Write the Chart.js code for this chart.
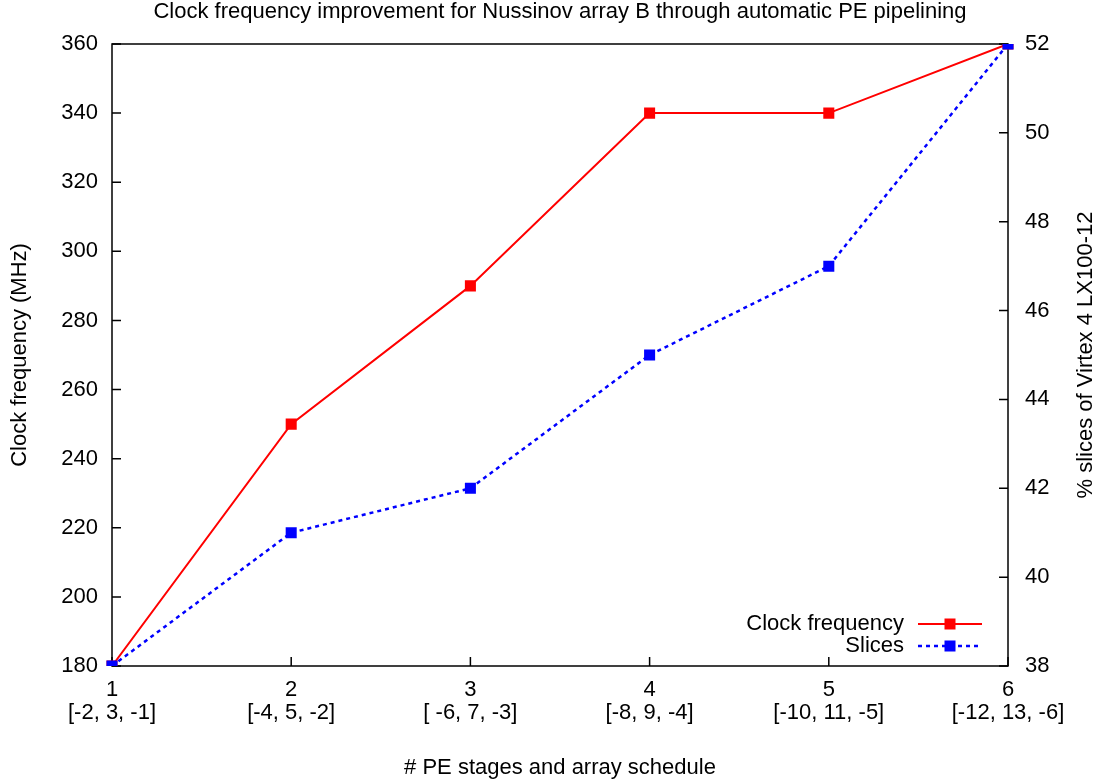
<!DOCTYPE html>
<html>
<head>
<meta charset="utf-8">
<script src="https://cdn.jsdelivr.net/npm/chart.js@4/dist/chart.umd.min.js"></script>
<style>
  html, body { margin: 0; padding: 0; background: #fff; }
  #wrap { width: 1102px; height: 782px; position: relative; }
</style>
</head>
<body>
<div id="wrap"><canvas id="c"></canvas></div>
<script>
// data
const stages = ['1', '2', '3', '4', '5', '6'];
const schedules = ['[-2, 3, -1]', '[-4, 5, -2]', '[ -6, 7, -3]', '[-8, 9, -4]', '[-10, 11, -5]', '[-12, 13, -6]'];
const clockFreq = [180, 250, 290, 340, 340, 360];
const slices = [38, 41, 42, 45, 47, 52];

const FONT = '"Liberation Sans", Arial, Helvetica, sans-serif';
const FS = 22;

// gnuplot style frame + inward ticks
const framePlugin = {
    id: 'frame',
    beforeDatasetsDraw(chart) {
        const { ctx, chartArea: a, scales } = chart;
        const len = 9;
        ctx.save();
        ctx.strokeStyle = '#000';
        ctx.lineWidth = 1.5;
        ctx.strokeRect(a.left, a.top, a.right - a.left, a.bottom - a.top);
        ctx.beginPath();
        scales.y.ticks.forEach((t, i) => {
            const py = scales.y.getPixelForTick(i);
            ctx.moveTo(a.left, py); ctx.lineTo(a.left + len, py);
        });
        scales.y2.ticks.forEach((t, i) => {
            const py = scales.y2.getPixelForTick(i);
            ctx.moveTo(a.right, py); ctx.lineTo(a.right - len, py);
        });
        scales.x.ticks.forEach((t, i) => {
            const px = scales.x.getPixelForTick(i);
            ctx.moveTo(px, a.bottom); ctx.lineTo(px, a.bottom - len);
        });
        ctx.stroke();
        ctx.restore();
    }
};

// legend: text on the left, line sample on the right
const keyPlugin = {
    id: 'key',
    afterDraw(chart) {
        const { ctx, chartArea: a } = chart;
        ctx.save();
        ctx.font = FS + 'px ' + FONT;
        ctx.textAlign = 'right';
        ctx.textBaseline = 'middle';
        [0, 1].forEach((di, r) => {
            const ds = chart.data.datasets[di];
            const y = a.bottom - 42 + r * 22;
            const textRight = a.right - 104;
            ctx.fillStyle = '#000';
            ctx.fillText(ds.label, textRight, y);
            ctx.strokeStyle = ds.borderColor;
            ctx.lineWidth = ds.borderWidth;
            ctx.setLineDash(ds.borderDash || []);
            ctx.beginPath();
            ctx.moveTo(textRight + 14, y);
            ctx.lineTo(textRight + 78, y);
            ctx.stroke();
            ctx.setLineDash([]);
            ctx.fillStyle = ds.backgroundColor;
            ctx.fillRect(textRight + 46 - 5.5, y - 5.5, 11, 11);
        });
        ctx.restore();
    }
};

// titles drawn by hand: top title and the right axis title (reads bottom-to-top)
const textPlugin = {
    id: 'texts',
    afterDraw(chart) {
        const { ctx, chartArea: a } = chart;
        ctx.save();
        ctx.font = FS + 'px ' + FONT;
        ctx.fillStyle = '#000';
        ctx.textAlign = 'center';
        ctx.textBaseline = 'middle';
        ctx.fillText('Clock frequency improvement for Nussinov array B through automatic PE pipelining', (a.left + a.right) / 2, 12);
        ctx.translate(1086, (a.top + a.bottom) / 2);
        ctx.rotate(-Math.PI / 2);
        ctx.fillText('% slices of Virtex 4 LX100-12', 0, 0);
        ctx.restore();
    }
};

const labels = stages.map((s, i) => [s, schedules[i]]);

new Chart(document.getElementById('c'), {
    type: 'line',
    data: {
        labels: labels,
        datasets: [
            {
                label: 'Clock frequency',
                data: clockFreq,
                yAxisID: 'y',
                borderColor: '#ff0000',
                backgroundColor: '#ff0000',
                borderWidth: 2,
                pointStyle: 'rect',
                pointRadius: 7.8,
                pointBorderWidth: 0,
                tension: 0,
                order: 1
            },
            {
                label: 'Slices',
                data: slices,
                yAxisID: 'y2',
                borderColor: '#0000ff',
                backgroundColor: '#0000ff',
                borderWidth: 2.5,
                borderDash: [4, 4],
                pointStyle: 'rect',
                pointRadius: 7.8,
                pointBorderWidth: 0,
                tension: 0,
                order: 0
            }
        ]
    },
    options: {
        responsive: true,
        maintainAspectRatio: false,
        animation: false,
        layout: { padding: { top: 44, left: 0, right: 0, bottom: 0 } },
        plugins: {
            legend: { display: false },
            tooltip: { enabled: false },
            title: { display: false }
        },
        scales: {
            x: {
                type: 'category',
                offset: false,
                grid: { display: false, drawTicks: false },
                border: { display: false },
                ticks: {
                    color: '#000',
                    font: { family: FONT, size: FS, lineHeight: 1.05 },
                    padding: 12,
                    maxRotation: 0,
                    autoSkip: false
                },
                title: {
                    display: true,
                    text: '# PE stages and array schedule',
                    color: '#000',
                    font: { family: FONT, size: FS },
                    padding: { top: 0, bottom: 1 }
                },
                afterFit(scale) { scale.height = 116; }
            },
            y: {
                position: 'left',
                min: 180,
                max: 360,
                grid: { display: false, drawTicks: false },
                border: { display: false },
                ticks: {
                    stepSize: 20,
                    color: '#000',
                    font: { family: FONT, size: FS },
                    padding: 14
                },
                title: {
                    display: true,
                    text: 'Clock frequency (MHz)',
                    color: '#000',
                    font: { family: FONT, size: FS },
                    padding: { top: 7, bottom: 0 }
                },
                afterFit(scale) { scale.width = 112; }
            },
            y2: {
                position: 'right',
                min: 38,
                max: 52,
                grid: { display: false, drawTicks: false },
                border: { display: false },
                ticks: {
                    stepSize: 2,
                    color: '#000',
                    font: { family: FONT, size: FS },
                    padding: 17
                },
                afterFit(scale) { scale.width = 94; }
            }
        }
    },
    plugins: [framePlugin, keyPlugin, textPlugin]
});
</script>
</body>
</html>
